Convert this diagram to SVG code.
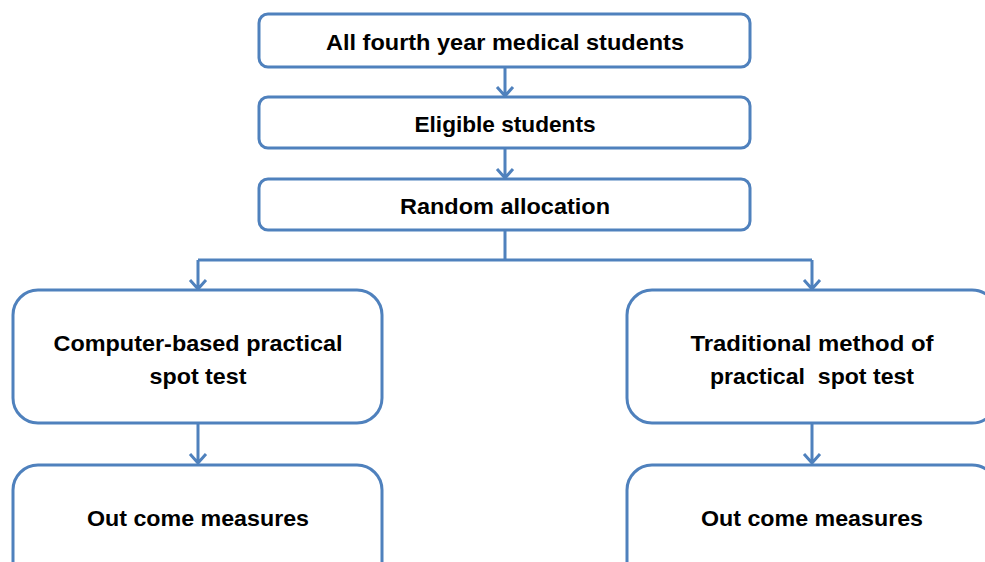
<svg xmlns="http://www.w3.org/2000/svg" width="985" height="562" viewBox="0 0 985 562">
<style>
.box{fill:#fff;stroke:#4F81BD;stroke-width:3}
.ln{fill:none;stroke:#4F81BD;stroke-width:3}
.t{font-family:"Liberation Sans",Arial,sans-serif;font-weight:bold;font-size:22px;fill:#000;text-anchor:middle;white-space:pre}
</style>
<rect width="985" height="562" fill="#fff"/>
<g id="connectors">
<path class="ln" d="M505 67V95M497 87L505 96L513 87"/>
<path class="ln" d="M505 149V177M497 169L505 178L513 169"/>
<path class="ln" d="M505 231V260M198 260H812M198 260V288M190 280L198 289L206 280M812 260V288M804 280L812 289L820 280"/>
<path class="ln" d="M198 424V462M190 454L198 463L206 454"/>
<path class="ln" d="M812 424V462M804 454L812 463L820 454"/>
</g>
<g id="n1"><rect class="box" x="259" y="14" width="491" height="53" rx="9"/><text class="t" x="505" y="50" textLength="358" lengthAdjust="spacingAndGlyphs">All fourth year medical students</text></g>
<g id="n2"><rect class="box" x="259" y="97" width="491" height="51" rx="9"/><text class="t" x="505" y="132" textLength="181" lengthAdjust="spacingAndGlyphs">Eligible students</text></g>
<g id="n3"><rect class="box" x="259" y="179" width="491" height="51" rx="9"/><text class="t" x="505" y="214" textLength="210" lengthAdjust="spacingAndGlyphs">Random allocation</text></g>
<g id="n4"><rect class="box" x="13" y="290" width="369" height="133" rx="25"/><text class="t" x="198" y="351" textLength="289" lengthAdjust="spacingAndGlyphs">Computer-based practical</text><text class="t" x="198" y="384" textLength="97" lengthAdjust="spacingAndGlyphs">spot test</text></g>
<g id="n5"><rect class="box" x="627" y="290" width="370" height="133" rx="25"/><text class="t" x="812" y="351" textLength="243" lengthAdjust="spacingAndGlyphs">Traditional method of</text><text class="t" x="812" y="384" textLength="204" lengthAdjust="spacingAndGlyphs" xml:space="preserve">practical  spot test</text></g>
<g id="n6"><rect class="box" x="13" y="465" width="369" height="130" rx="25"/><text class="t" x="198" y="526" textLength="222" lengthAdjust="spacingAndGlyphs">Out come measures</text></g>
<g id="n7"><rect class="box" x="627" y="465" width="370" height="130" rx="25"/><text class="t" x="812" y="526" textLength="222" lengthAdjust="spacingAndGlyphs">Out come measures</text></g>
</svg>
